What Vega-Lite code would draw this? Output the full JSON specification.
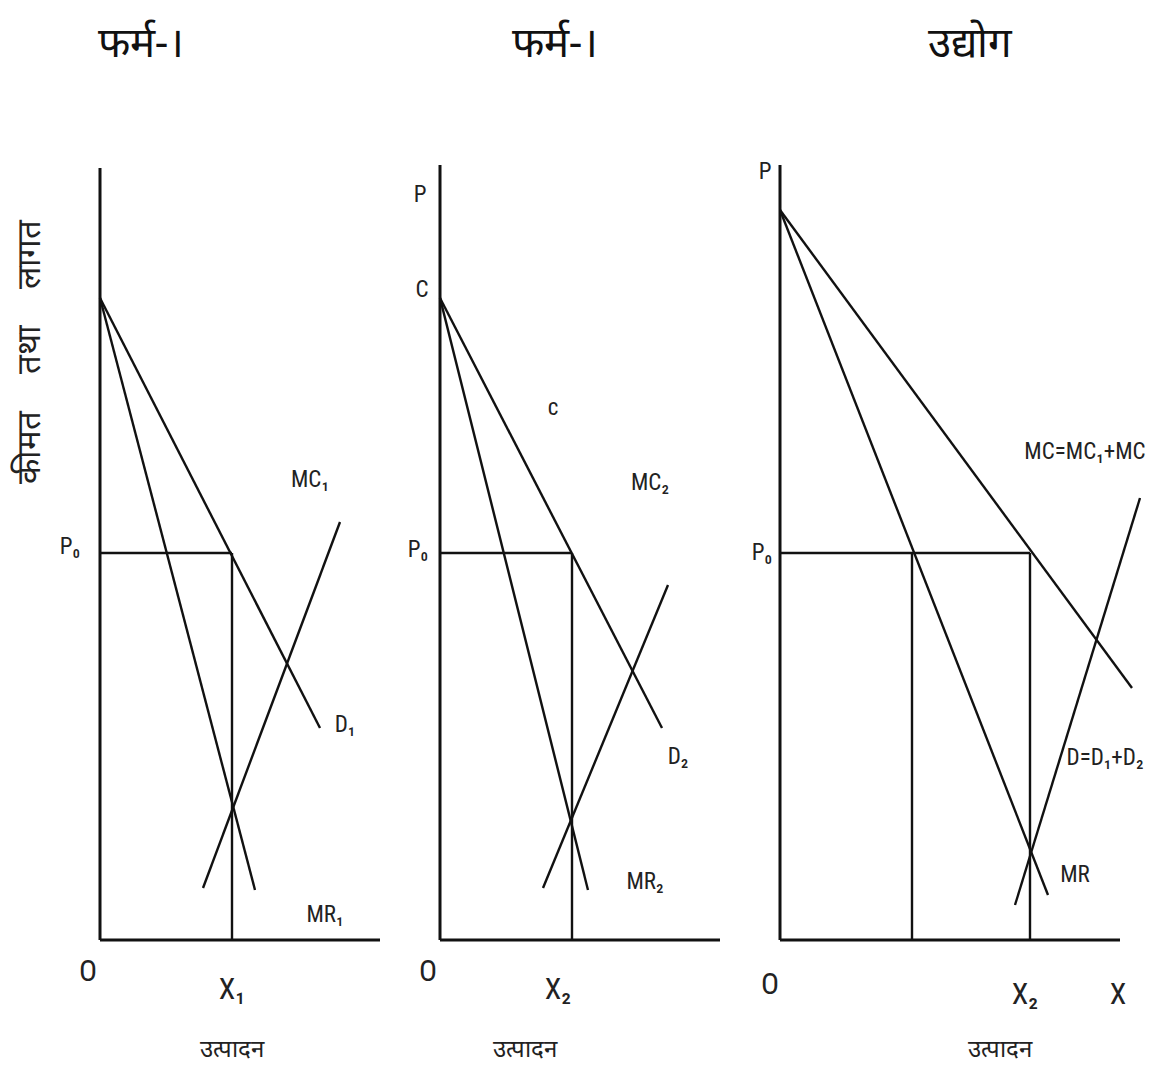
{
  "$schema": "https://vega.github.io/schema/vega-lite/v6.json",
  "padding": 0,
  "spacing": 0,
  "bounds": "flush",
  "background": "white",
  "config": {"view": {"stroke": null}},
  "datasets": {
    "ax1": [
      {"seg": "y", "o": 0, "q": 0, "p": 77.2}, {"seg": "y", "o": 1, "q": 0, "p": 0},
      {"seg": "x", "o": 0, "q": 0, "p": 0}, {"seg": "x", "o": 1, "q": 28, "p": 0}
    ],
    "ln1": [
      {"seg": "D1", "o": 0, "q": 0, "p": 64.2}, {"seg": "D1", "o": 1, "q": 22, "p": 21.2},
      {"seg": "MR1", "o": 0, "q": 0, "p": 64.2}, {"seg": "MR1", "o": 1, "q": 15.5, "p": 5},
      {"seg": "MC1", "o": 0, "q": 10.3, "p": 5.2}, {"seg": "MC1", "o": 1, "q": 24, "p": 41.8},
      {"seg": "P0", "o": 0, "q": 0, "p": 38.7}, {"seg": "P0", "o": 1, "q": 13.2, "p": 38.7},
      {"seg": "X1", "o": 0, "q": 13.2, "p": 38.7}, {"seg": "X1", "o": 1, "q": 13.2, "p": 0}
    ],
    "lb1": [
      {"t": "P₀", "q": -3, "p": 39.3},
      {"t": "MC₁", "q": 21, "p": 46},
      {"t": "D₁", "q": 24.5, "p": 21.5},
      {"t": "MR₁", "q": 22.5, "p": 2.5}
    ],
    "bg1": [
      {"t": "O", "q": -1.2, "p": -3.2},
      {"t": "X₁", "q": 13.2, "p": -5}
    ],
    "xl1": [{"t": "उत्पादन", "q": 13.2, "p": -11}],
    "tt1": [{"t": "फर्म-।", "q": 4.1, "p": 89.6}],
    "yl1": [{"t": "कीमत\u00a0\u00a0\u00a0\u00a0तथा\u00a0\u00a0\u00a0\u00a0लागत", "q": -7, "p": 58.8}],
    "ax2": [
      {"seg": "y", "o": 0, "q": 0, "p": 77.5}, {"seg": "y", "o": 1, "q": 0, "p": 0},
      {"seg": "x", "o": 0, "q": 0, "p": 0}, {"seg": "x", "o": 1, "q": 28, "p": 0}
    ],
    "ln2": [
      {"seg": "D2", "o": 0, "q": 0, "p": 64.2}, {"seg": "D2", "o": 1, "q": 22.2, "p": 21.2},
      {"seg": "MR2", "o": 0, "q": 0, "p": 64.2}, {"seg": "MR2", "o": 1, "q": 14.8, "p": 5},
      {"seg": "MC2", "o": 0, "q": 10.3, "p": 5.2}, {"seg": "MC2", "o": 1, "q": 22.8, "p": 35.5},
      {"seg": "P0", "o": 0, "q": 0, "p": 38.7}, {"seg": "P0", "o": 1, "q": 13.2, "p": 38.7},
      {"seg": "X2", "o": 0, "q": 13.2, "p": 38.7}, {"seg": "X2", "o": 1, "q": 13.2, "p": 0}
    ],
    "lb2": [
      {"t": "P", "q": -2, "p": 74.5},
      {"t": "C", "q": -1.8, "p": 65},
      {"t": "c", "q": 11.3, "p": 53.2},
      {"t": "MC₂", "q": 21, "p": 45.7},
      {"t": "P₀", "q": -2.2, "p": 39},
      {"t": "D₂", "q": 23.8, "p": 18.3},
      {"t": "MR₂", "q": 20.5, "p": 5.8}
    ],
    "bg2": [
      {"t": "O", "q": -1.2, "p": -3.2},
      {"t": "X₂", "q": 11.8, "p": -5}
    ],
    "xl2": [{"t": "उत्पादन", "q": 8.5, "p": -11}],
    "tt2": [{"t": "फर्म-।", "q": 11.5, "p": 89.6}],
    "ax3": [
      {"seg": "y", "o": 0, "q": 0, "p": 77.5}, {"seg": "y", "o": 1, "q": 0, "p": 0},
      {"seg": "x", "o": 0, "q": 0, "p": 0}, {"seg": "x", "o": 1, "q": 34, "p": 0}
    ],
    "ln3": [
      {"seg": "D", "o": 0, "q": 0, "p": 73}, {"seg": "D", "o": 1, "q": 35.2, "p": 25.2},
      {"seg": "MR", "o": 0, "q": 0, "p": 73}, {"seg": "MR", "o": 1, "q": 26.8, "p": 4.5},
      {"seg": "MC", "o": 0, "q": 23.5, "p": 3.5}, {"seg": "MC", "o": 1, "q": 36, "p": 44.2},
      {"seg": "P0", "o": 0, "q": 0, "p": 38.7}, {"seg": "P0", "o": 1, "q": 25, "p": 38.7},
      {"seg": "Va", "o": 0, "q": 13.2, "p": 38.7}, {"seg": "Va", "o": 1, "q": 13.2, "p": 0},
      {"seg": "Vb", "o": 0, "q": 25, "p": 38.7}, {"seg": "Vb", "o": 1, "q": 25, "p": 0}
    ],
    "lb3": [
      {"t": "P", "q": -1.5, "p": 76.8},
      {"t": "P₀", "q": -1.8, "p": 38.7},
      {"t": "MC=MC₁+MC", "q": 30.5, "p": 48.8},
      {"t": "D=D₁+D₂", "q": 32.5, "p": 18.2},
      {"t": "MR", "q": 29.5, "p": 6.5}
    ],
    "bg3": [
      {"t": "O", "q": -1, "p": -4.5},
      {"t": "X₂", "q": 24.5, "p": -5.5},
      {"t": "X", "q": 33.8, "p": -5.5}
    ],
    "xl3": [{"t": "उत्पादन", "q": 22, "p": -11}],
    "tt3": [{"t": "उद्योग", "q": 19, "p": 89.6}]
  },
  "hconcat": [
    {
      "width": 400, "height": 1067,
      "encoding": {
        "x": {"field": "q", "type": "quantitative", "scale": {"domain": [-10, 30], "nice": false, "zero": false}, "axis": null},
        "y": {"field": "p", "type": "quantitative", "scale": {"domain": [-12.7, 94], "nice": false, "zero": false}, "axis": null}
      },
      "layer": [
        {"data": {"name": "ax1"}, "mark": {"type": "line", "color": "#111", "strokeWidth": 3}, "encoding": {"detail": {"field": "seg"}, "order": {"field": "o"}}},
        {"data": {"name": "ln1"}, "mark": {"type": "line", "color": "#111", "strokeWidth": 2.4}, "encoding": {"detail": {"field": "seg"}, "order": {"field": "o"}}},
        {"data": {"name": "lb1"}, "mark": {"type": "text", "font": "Liberation Sans Narrow, Roboto Condensed, Roboto", "fontSize": 23, "color": "#222"}, "encoding": {"text": {"field": "t"}}},
        {"data": {"name": "bg1"}, "mark": {"type": "text", "font": "Liberation Sans Narrow, Roboto Condensed, Roboto", "fontSize": 30, "color": "#222"}, "encoding": {"text": {"field": "t"}}},
        {"data": {"name": "xl1"}, "mark": {"type": "text", "fontSize": 24, "color": "#222"}, "encoding": {"text": {"field": "t"}}},
        {"data": {"name": "tt1"}, "mark": {"type": "text", "fontSize": 42, "color": "#111"}, "encoding": {"text": {"field": "t"}}},
        {"data": {"name": "yl1"}, "mark": {"type": "text", "fontSize": 33, "angle": 270, "color": "#222"}, "encoding": {"text": {"field": "t"}}}
      ]
    },
    {
      "width": 340, "height": 1067,
      "encoding": {
        "x": {"field": "q", "type": "quantitative", "scale": {"domain": [-4, 30], "nice": false, "zero": false}, "axis": null},
        "y": {"field": "p", "type": "quantitative", "scale": {"domain": [-12.7, 94], "nice": false, "zero": false}, "axis": null}
      },
      "layer": [
        {"data": {"name": "ax2"}, "mark": {"type": "line", "color": "#111", "strokeWidth": 3}, "encoding": {"detail": {"field": "seg"}, "order": {"field": "o"}}},
        {"data": {"name": "ln2"}, "mark": {"type": "line", "color": "#111", "strokeWidth": 2.4}, "encoding": {"detail": {"field": "seg"}, "order": {"field": "o"}}},
        {"data": {"name": "lb2"}, "mark": {"type": "text", "font": "Liberation Sans Narrow, Roboto Condensed, Roboto", "fontSize": 23, "color": "#222"}, "encoding": {"text": {"field": "t"}}},
        {"data": {"name": "bg2"}, "mark": {"type": "text", "font": "Liberation Sans Narrow, Roboto Condensed, Roboto", "fontSize": 30, "color": "#222"}, "encoding": {"text": {"field": "t"}}},
        {"data": {"name": "xl2"}, "mark": {"type": "text", "fontSize": 24, "color": "#222"}, "encoding": {"text": {"field": "t"}}},
        {"data": {"name": "tt2"}, "mark": {"type": "text", "fontSize": 42, "color": "#111"}, "encoding": {"text": {"field": "t"}}}
      ]
    },
    {
      "width": 425, "height": 1067,
      "encoding": {
        "x": {"field": "q", "type": "quantitative", "scale": {"domain": [-4, 38.5], "nice": false, "zero": false}, "axis": null},
        "y": {"field": "p", "type": "quantitative", "scale": {"domain": [-12.7, 94], "nice": false, "zero": false}, "axis": null}
      },
      "layer": [
        {"data": {"name": "ax3"}, "mark": {"type": "line", "color": "#111", "strokeWidth": 3}, "encoding": {"detail": {"field": "seg"}, "order": {"field": "o"}}},
        {"data": {"name": "ln3"}, "mark": {"type": "line", "color": "#111", "strokeWidth": 2.4}, "encoding": {"detail": {"field": "seg"}, "order": {"field": "o"}}},
        {"data": {"name": "lb3"}, "mark": {"type": "text", "font": "Liberation Sans Narrow, Roboto Condensed, Roboto", "fontSize": 23, "color": "#222"}, "encoding": {"text": {"field": "t"}}},
        {"data": {"name": "bg3"}, "mark": {"type": "text", "font": "Liberation Sans Narrow, Roboto Condensed, Roboto", "fontSize": 30, "color": "#222"}, "encoding": {"text": {"field": "t"}}},
        {"data": {"name": "xl3"}, "mark": {"type": "text", "fontSize": 24, "color": "#222"}, "encoding": {"text": {"field": "t"}}},
        {"data": {"name": "tt3"}, "mark": {"type": "text", "fontSize": 42, "color": "#111"}, "encoding": {"text": {"field": "t"}}}
      ]
    }
  ]
}
